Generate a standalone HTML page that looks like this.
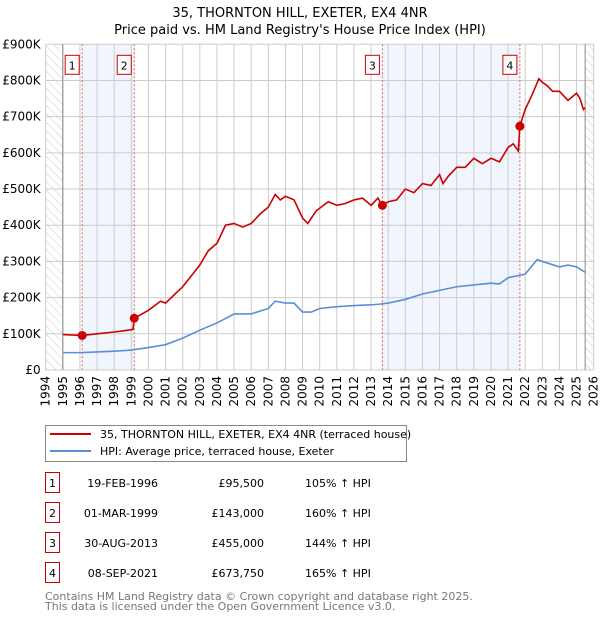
<!DOCTYPE html>
<html><head><meta charset="utf-8"><style>
body{margin:0;background:#fff;width:600px;height:620px;overflow:hidden;font-family:"DejaVu Sans","Liberation Sans",sans-serif}
svg{display:block}
</style></head><body>
<svg id="chart" width="600" height="620" xmlns="http://www.w3.org/2000/svg" font-family="DejaVu Sans, Liberation Sans, sans-serif">
<defs><pattern id="hatch" width="6" height="6" patternUnits="userSpaceOnUse" patternTransform="rotate(-45)"><line x1="0" y1="0" x2="0" y2="6" stroke="#ccc" stroke-width="1"/></pattern></defs>
<text x="300" y="17" font-size="13" text-anchor="middle">35, THORNTON HILL, EXETER, EX4 4NR</text>
<text x="300" y="34" font-size="13" text-anchor="middle">Price paid vs. HM Land Registry's House Price Index (HPI)</text>
<g id="plot"></g>
<g>
<rect x="45.5" y="425.5" width="361" height="36" fill="#fff" stroke="#888"/>
<line x1="50" y1="434" x2="91" y2="434" stroke="#cc0000" stroke-width="2"/>
<text x="100" y="438" font-size="11">35, THORNTON HILL, EXETER, EX4 4NR (terraced house)</text>
<line x1="50" y1="451" x2="91" y2="451" stroke="#5b8fd4" stroke-width="2"/>
<text x="100" y="455" font-size="11">HPI: Average price, terraced house, Exeter</text>
</g>
<g id="table"></g>
<text x="45" y="600" font-size="11" fill="#777">Contains HM Land Registry data © Crown copyright and database right 2025.</text>
<text x="45" y="610" font-size="11" fill="#777">This data is licensed under the Open Government Licence v3.0.</text>
</svg>
<script>
const yearTicks=[1994,1995,1996,1997,1998,1999,2000,2001,2002,2003,2004,2005,2006,2007,2008,2009,2010,2011,2012,2013,2014,2015,2016,2017,2018,2019,2020,2021,2022,2023,2024,2025,2026];
const priceTicks=[0,100,200,300,400,500,600,700,800,900];
const priceTickLabels=["£0","£100K","£200K","£300K","£400K","£500K","£600K","£700K","£800K","£900K"];
const redX=[1995,1996.13,1997,1998,1998.8,1999.1,1999.17,2000,2000.7,2001,2002,2003,2003.5,2004,2004.5,2005,2005.5,2006,2006.5,2007,2007.4,2007.7,2008,2008.5,2009,2009.3,2009.8,2010.5,2011,2011.5,2012,2012.5,2013,2013.4,2013.66,2014,2014.5,2015,2015.5,2016,2016.5,2017,2017.2,2017.5,2018,2018.5,2019,2019.5,2020,2020.5,2021,2021.3,2021.6,2021.69,2022,2022.4,2022.8,2023,2023.3,2023.6,2024,2024.5,2025,2025.2,2025.4,2025.5];
const redY=[98,95.5,100,105,110,112,143,165,190,185,230,290,330,350,400,405,395,405,430,450,485,470,480,470,420,405,440,465,455,460,470,475,455,475,455,465,470,500,490,515,510,540,515,535,560,560,585,570,585,575,615,625,605,673.75,720,760,805,795,785,770,770,745,765,750,720,725];
const blueX=[1995,1996,1997,1998,1999,2000,2001,2002,2003,2004,2005,2006,2007,2007.4,2008,2008.5,2009,2009.5,2010,2011,2012,2013,2013.5,2014,2015,2016,2017,2018,2019,2020,2020.5,2021,2022,2022.7,2023,2024,2024.5,2025,2025.5];
const blueY=[48,48,50,52,55,62,70,88,110,130,155,155,170,190,185,185,160,160,170,175,178,180,182,185,195,210,220,230,235,240,238,255,265,305,300,285,290,285,270];
const saleLabels=["1","2","3","4"];
const saleX=[1996.13,1999.17,2013.66,2021.69];
const saleY=[95.5,143,455,673.75];
const saleDates=["19-FEB-1996","01-MAR-1999","30-AUG-2013","08-SEP-2021"];
const salePrices=["£95,500","£143,000","£455,000","£673,750"];
const salePcts=["105% ↑ HPI","160% ↑ HPI","144% ↑ HPI","165% ↑ HPI"];

const X0=45.7,X1=593.7,Y0=370,Y1=44.3;
const sx=v=>X0+(v-1994)*(X1-X0)/32;
const sy=v=>Y0-(v/900)*(Y0-Y1);
const NS="http://www.w3.org/2000/svg";
const plot=document.getElementById('plot');
function mk(tag,attrs,parent){const e=document.createElementNS(NS,tag);for(const k in attrs)e.setAttribute(k,attrs[k]);(parent||plot).appendChild(e);return e;}

let r=mk('rect',{x:X0,y:Y1,width:X1-X0,height:Y0-Y1,fill:'#fff'});


r=mk('rect',{x:X0,y:Y1,width:sx(1995)-X0,height:Y0-Y1,fill:'url(#hatch)'});


r=mk('rect',{x:sx(2025.5),y:Y1,width:X1-sx(2025.5),height:Y0-Y1,fill:'url(#hatch)'});


r=mk('rect',{x:sx(saleX[0]),y:Y1,width:sx(saleX[1])-sx(saleX[0]),height:Y0-Y1,fill:'#eef3fd',opacity:0.8});


r=mk('rect',{x:sx(saleX[2]),y:Y1,width:sx(saleX[3])-sx(saleX[2]),height:Y0-Y1,fill:'#eef3fd',opacity:0.8});



yearTicks.forEach(y=>{
  const x=sx(y);
  const l=mk('line',{x1:x,y1:Y1,x2:x,y2:Y0,stroke:'#ccc','stroke-width':1});
  
  
  const t=mk('text',{x:0,y:0,'font-size':12,'text-anchor':'end',transform:`translate(${x+4},${Y0+6}) rotate(-90)`});
  t.textContent=y;
  
  
});
priceTicks.forEach((v,i)=>{
  const y=sy(v);
  const l=mk('line',{x1:X0,y1:y,x2:X1,y2:y,stroke:'#ccc','stroke-width':1});
  
  
  const t=mk('text',{x:X0-5,y:y+4,'font-size':12,'text-anchor':'end'});
  t.textContent=priceTickLabels[i];
  
  
});
let l=mk('line',{x1:sx(1995),y1:Y1,x2:sx(1995),y2:Y0,stroke:'#888'});


l=mk('line',{x1:sx(2025.5),y1:Y1,x2:sx(2025.5),y2:Y0,stroke:'#888'});



saleX.forEach((v,i)=>{
  const x=sx(v);
  const d=mk('line',{x1:x,y1:Y1,x2:x,y2:Y0,stroke:'#e06060','stroke-width':1,'stroke-dasharray':'2,2'});
  
  
  const b=mk('rect',{x:x-17,y:Y1+11,width:14,height:19,fill:'#fff',stroke:'#cc0000'});
  
  
  const t=mk('text',{x:x-10,y:Y1+25,'font-size':11,'text-anchor':'middle'});
  t.textContent=saleLabels[i];
  
  
});

let p=mk('polyline',{points:blueX.map((v,i)=>sx(v)+','+sy(blueY[i])).join(' '),fill:'none',stroke:'#5b8fd4','stroke-width':1.6});


p=mk('polyline',{points:redX.map((v,i)=>sx(v)+','+sy(redY[i])).join(' '),fill:'none',stroke:'#cc0000','stroke-width':1.6});


saleX.forEach((v,i)=>{
  const c=mk('circle',{cx:sx(v),cy:sy(saleY[i]),r:4.5,fill:'#cc0000'});
  
  
});

const tbl=document.getElementById('table');
saleLabels.forEach((s,i)=>{
  const yc=483+i*30;
  const b=mk('rect',{x:45.5,y:yc-10.5,width:14,height:20,fill:'#fff',stroke:'#cc0000'},tbl);
  
  
  let t=mk('text',{x:52.5,y:yc+4,'font-size':11,'text-anchor':'middle'},tbl);t.textContent=s;
  
  
  t=mk('text',{x:158,y:yc+4,'font-size':11,'text-anchor':'end'},tbl);t.textContent=saleDates[i];
  
  
  t=mk('text',{x:264,y:yc+4,'font-size':11,'text-anchor':'end'},tbl);t.textContent=salePrices[i];
  
  
  t=mk('text',{x:305,y:yc+4,'font-size':11},tbl);t.textContent=salePcts[i];
  
  
});
</script>
</body></html>
